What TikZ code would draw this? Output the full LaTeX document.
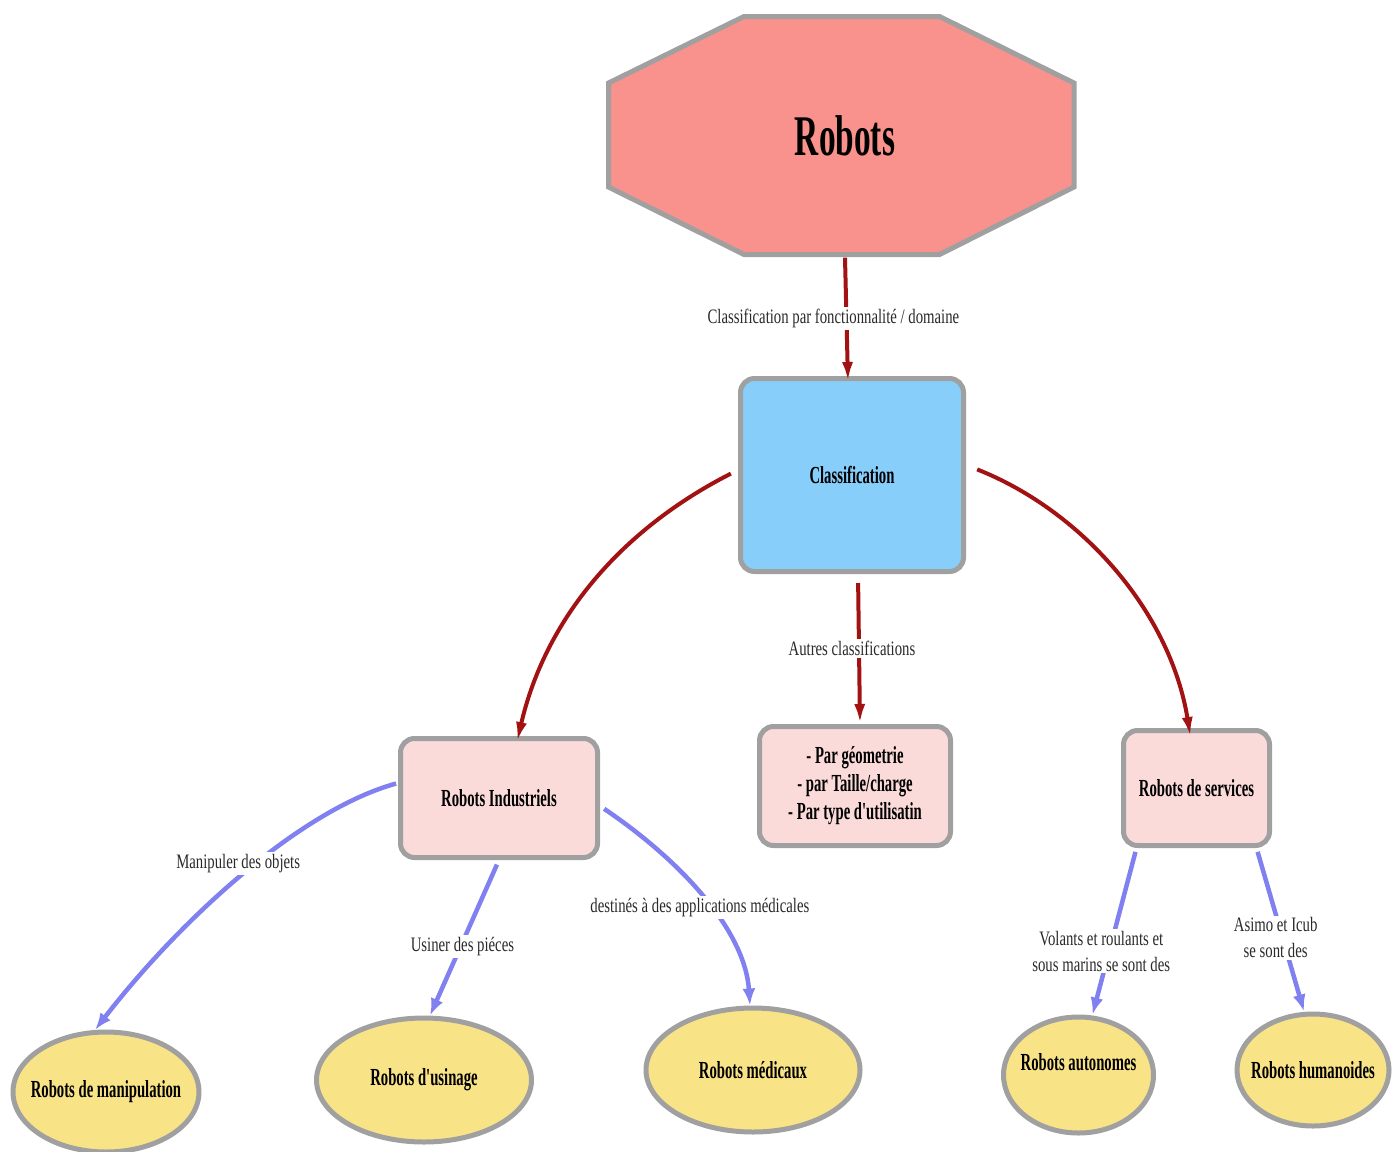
\documentclass[tikz,border=0pt]{standalone}
\usepackage{fontspec}
\setmainfont{Liberation Serif}
\newfontfamily\nodefont{Liberation Serif}[FakeStretch=0.6]
\newfontfamily\labelfont{Liberation Serif}[FakeStretch=0.72]
\newfontfamily\titlefont{Liberation Serif}[FakeStretch=0.58]
\usetikzlibrary{shapes.geometric,arrows.meta,calc}
\definecolor{bordergray}{HTML}{A0A0A0}
\definecolor{octafill}{HTML}{F9928C}
\definecolor{bluefill}{HTML}{87CEFA}
\definecolor{pinkfill}{HTML}{FBDBDA}
\definecolor{yellowfill}{HTML}{F9E387}
\definecolor{darkred}{HTML}{A31212}
\definecolor{bluearrow}{HTML}{8080F0}
\definecolor{labelgray}{HTML}{2A2A2A}
\tikzset{
  box/.style={draw=bordergray, line width=5pt, rounded corners=14pt, fill=pinkfill,
    font=\nodefont\bfseries\fontsize{24.5}{28}\selectfont, align=center, inner sep=0pt},
  ell/.style={ellipse, draw=bordergray, line width=5pt, fill=yellowfill,
    font=\nodefont\bfseries\fontsize{24.5}{28}\selectfont, inner sep=0pt},
  redarr/.style={draw=darkred, line width=4pt, -{Latex[length=20pt,width=11pt]}},
  bluearr/.style={draw=bluearrow, line width=4.5pt, -{Latex[length=17pt,width=13pt]}},
  lbl/.style={fill=white, text=labelgray, font=\labelfont\fontsize{20.5}{25.5}\selectfont,
    inner sep=2pt, align=center},
}
\begin{document}
\begin{tikzpicture}[x=1pt,y=-1pt]
\useasboundingbox (0,0) rectangle (1397,1151);
% octagon
\draw[draw=bordergray, line width=5pt, fill=octafill, line join=miter]
  (744,16.5) -- (939.5,16.5) -- (1074,83) -- (1074,187) -- (939.5,254.5) -- (744,254.5) -- (608.5,187) -- (608.5,83) -- cycle;
\node[inner sep=0pt, minimum width=470pt, minimum height=243pt, font=\titlefont\bfseries\fontsize{57.5}{60}\selectfont] (rob) at (845,136) {Robots};
% boxes
\node[box, fill=bluefill, minimum width=223pt, minimum height=193pt] (cls) at (852,475) {Classification};
\node[box, minimum width=197pt, minimum height=119pt] (ind) at (499,798) {Robots Industriels};
\node[box, minimum width=191pt, minimum height=119pt] (mid) at (855,786) {- Par géometrie\\- par Taille/charge\\- Par type d'utilisatin};
\node[box, minimum width=146pt, minimum height=115pt] (srv) at (1196.5,788) {Robots de services};
% ellipses
\node[ell, minimum width=186pt, minimum height=120pt] (man) at (106,1092) {\makebox[0pt]{Robots de manipulation}};
\node[ell, minimum width=215pt, minimum height=124pt] (usi) at (424,1080) {\makebox[0pt]{Robots d'usinage}};
\node[ell, minimum width=214pt, minimum height=124pt] (med) at (753,1070) {\makebox[0pt]{Robots médicaux}};
\node[ell, minimum width=150pt, minimum height=116pt] (aut) at (1078.5,1075) {\makebox[0pt]{\raisebox{5pt}[0pt][0pt]{Robots autonomes}}};
\node[ell, minimum width=152pt, minimum height=112pt] (hum) at (1313,1070) {\makebox[0pt]{Robots humanoides}};
% red arrows
\draw[redarr] (rob.south) -- node[lbl, pos=0.46, xshift=-13pt, yshift=-4pt] {Classification par fonctionnalité / domaine} ([xshift=-4pt,yshift=-6pt]cls.north);
\draw[redarr, shorten <=8pt] ([yshift=5pt]cls.west) .. controls (620,530) and (545,620) .. ([xshift=18pt,yshift=-6pt]ind.north);
\draw[redarr, shorten <=12pt] ([yshift=10pt]cls.east) .. controls (1080,510) and (1170,610) .. ([xshift=-6pt,yshift=-9pt]srv.north);
\draw[redarr, shorten <=9pt] ([xshift=6pt]cls.south) -- node[lbl, pos=0.47, xshift=-7pt, yshift=-4pt] {Autres classifications} ([xshift=5pt]mid.north);
% blue arrows
\draw[bluearr, shorten <=2pt] ([yshift=15pt]ind.west) .. controls (300,810) and (180,920) .. node[lbl, pos=0.47, xshift=-13pt, yshift=4pt] {Manipuler des objets} (man.100);
\draw[bluearr, shorten <=5pt] (ind.south) -- node[lbl, pos=0.53, yshift=-4pt] {Usiner des piéces} ([xshift=6pt]usi.north);
\draw[bluearr, shorten <=5pt] ([yshift=-8pt]ind.east) .. controls (680,860) and (745,930) .. node[lbl, pos=0.48, yshift=-14pt] {destinés à des applications médicales} ([xshift=-3pt]med.north);
\draw[bluearr, shorten <=4pt] ([xshift=-60pt]srv.south) -- node[lbl, pos=0.62, xshift=-8pt] {Volants et roulants et\\sous marins se sont des} ([xshift=14pt]aut.north);
\draw[bluearr, shorten <=4pt] ([xshift=60pt]srv.south) -- node[lbl, pos=0.53, xshift=-6pt, yshift=-3pt] {Asimo et Icub\\se sont des} ([xshift=-9pt]hum.north);
\end{tikzpicture}
\end{document}
